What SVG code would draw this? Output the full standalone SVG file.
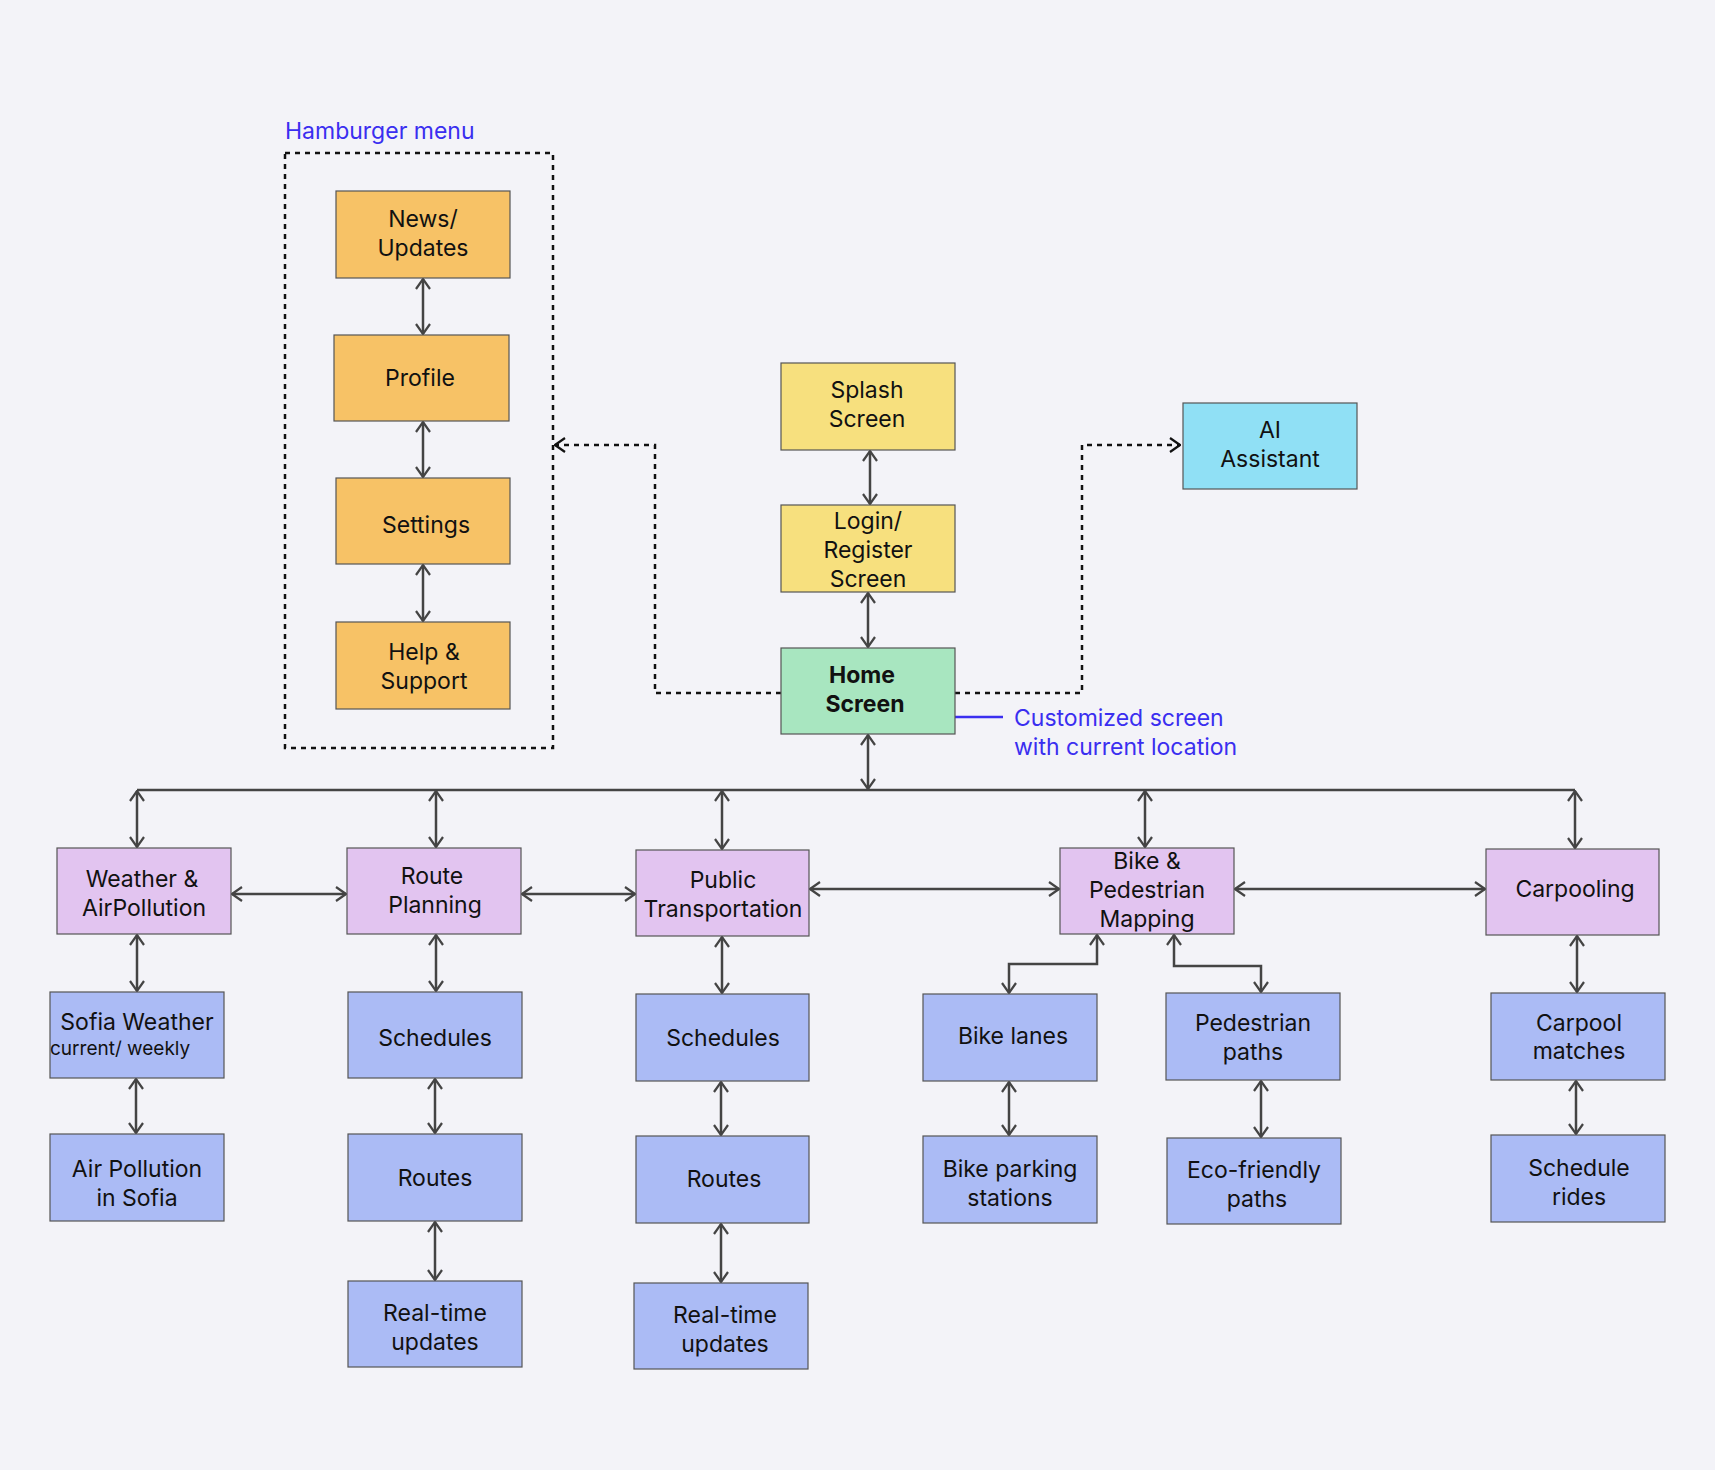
<svg xmlns="http://www.w3.org/2000/svg" width="1715" height="1470" viewBox="0 0 1715 1470">
<defs>
<marker id="a" viewBox="0 0 12 16" refX="11" refY="8" markerWidth="12" markerHeight="16" markerUnits="userSpaceOnUse" orient="auto-start-reverse"><path d="M1 1 L11 8 L1 15" fill="none" stroke="#444" stroke-width="2.2"/></marker>
<marker id="b" viewBox="0 0 12 16" refX="11" refY="8" markerWidth="12" markerHeight="16" markerUnits="userSpaceOnUse" orient="auto-start-reverse"><path d="M1 1 L11 8 L1 15" fill="none" stroke="#111" stroke-width="2.2"/></marker>
<style>
.n{stroke:#555;stroke-width:1.2}
.o{fill:#F7C266}.y{fill:#F7E07E}.g{fill:#A8E6C0}.c{fill:#90E0F5}.p{fill:#E2C4F0}.b{fill:#ABBBF5}
text{font-family:Inter,"Open Sans",sans-serif;font-size:23px;fill:#111;text-anchor:middle}
.l{stroke:#444;stroke-width:2.5;fill:none;marker-start:url(#a);marker-end:url(#a)}
.s{stroke:#444;stroke-width:2.5;fill:none}
.d{stroke:#111;stroke-width:2.5;fill:none;stroke-dasharray:5 5}
.bl{fill:#3A2EF0;text-anchor:start}
</style>
</defs>
<rect width="1715" height="1470" fill="#F3F3F8"/>
<text class="bl" x="285" y="139">Hamburger menu</text>
<rect x="285" y="153" width="268" height="595" class="d"/>
<g id="connectors">
<line class="l" x1="423" y1="279" x2="423" y2="334"/>
<line class="l" x1="423" y1="422" x2="423" y2="477"/>
<line class="l" x1="423" y1="565" x2="423" y2="621"/>
<line class="l" x1="870" y1="451" x2="870" y2="504"/>
<line class="l" x1="868" y1="593" x2="868" y2="647"/>
<line class="l" x1="868" y1="735" x2="868" y2="789"/>
<polyline class="d" points="781,693 655,693 655,445 555,445" marker-end="url(#b)"/>
<polyline class="d" points="955,693 1082,693 1082,445 1180,445" marker-end="url(#b)"/>
<line x1="955" y1="717" x2="1003" y2="717" stroke="#3A2EF0" stroke-width="2.5"/>
<line class="s" x1="137" y1="790" x2="1575" y2="790"/>
<line class="l" x1="137" y1="791" x2="137" y2="847"/>
<line class="l" x1="436" y1="791" x2="436" y2="847"/>
<line class="l" x1="722" y1="791" x2="722" y2="849"/>
<line class="l" x1="1145" y1="791" x2="1145" y2="847"/>
<line class="l" x1="1575" y1="791" x2="1575" y2="848"/>
<line class="l" x1="232" y1="894" x2="346" y2="894"/>
<line class="l" x1="522" y1="894" x2="635" y2="894"/>
<line class="l" x1="810" y1="889" x2="1059" y2="889"/>
<line class="l" x1="1235" y1="889" x2="1485" y2="889"/>
<line class="l" x1="137" y1="935" x2="137" y2="991"/>
<line class="l" x1="136" y1="1079" x2="136" y2="1133"/>
<line class="l" x1="436" y1="935" x2="436" y2="991"/>
<line class="l" x1="435" y1="1079" x2="435" y2="1133"/>
<line class="l" x1="435" y1="1222" x2="435" y2="1280"/>
<line class="l" x1="722" y1="937" x2="722" y2="993"/>
<line class="l" x1="721" y1="1082" x2="721" y2="1135"/>
<line class="l" x1="721" y1="1224" x2="721" y2="1282"/>
<polyline class="l" points="1097,935 1097,964 1009,964 1009,993"/>
<polyline class="l" points="1174,935 1174,966 1261,966 1261,992"/>
<line class="l" x1="1009" y1="1082" x2="1009" y2="1135"/>
<line class="l" x1="1261" y1="1081" x2="1261" y2="1137"/>
<line class="l" x1="1577" y1="936" x2="1577" y2="992"/>
<line class="l" x1="1576" y1="1081" x2="1576" y2="1134"/>
</g>
<text class="bl" x="1014" y="726">Customized screen</text>
<text class="bl" x="1014" y="755">with current location</text>
<g id="news"><rect class="n o" x="336" y="191" width="174" height="87"/><text x="423" y="227">News/</text><text x="423" y="256">Updates</text></g>
<g id="profile"><rect class="n o" x="334" y="335" width="175" height="86"/><text x="420" y="386">Profile</text></g>
<g id="settings"><rect class="n o" x="336" y="478" width="174" height="86"/><text x="426" y="533">Settings</text></g>
<g id="help"><rect class="n o" x="336" y="622" width="174" height="87"/><text x="424" y="660">Help &amp;</text><text x="424" y="689">Support</text></g>
<g id="splash"><rect class="n y" x="781" y="363" width="174" height="87"/><text x="867" y="398">Splash</text><text x="867" y="427">Screen</text></g>
<g id="login"><rect class="n y" x="781" y="505" width="174" height="87"/><text x="868" y="529">Login/</text><text x="868" y="558">Register</text><text x="868" y="587">Screen</text></g>
<g id="home"><rect class="n g" x="781" y="648" width="174" height="86"/><text x="862" y="683" font-weight="bold">Home</text><text x="865" y="712" font-weight="bold">Screen</text></g>
<g id="ai"><rect class="n c" x="1183" y="403" width="174" height="86"/><text x="1270" y="438">AI</text><text x="1270" y="467">Assistant</text></g>
<g id="weather"><rect class="n p" x="57" y="848" width="174" height="86"/><text x="142" y="887">Weather &amp;</text><text x="144" y="916">AirPollution</text></g>
<g id="route"><rect class="n p" x="347" y="848" width="174" height="86"/><text x="432" y="884">Route</text><text x="435" y="913">Planning</text></g>
<g id="public"><rect class="n p" x="636" y="850" width="173" height="86"/><text x="723" y="888">Public</text><text x="723" y="917">Transportation</text></g>
<g id="bikeped"><rect class="n p" x="1060" y="848" width="174" height="86"/><text x="1147" y="869">Bike &amp;</text><text x="1147" y="898">Pedestrian</text><text x="1147" y="927">Mapping</text></g>
<g id="carpooling"><rect class="n p" x="1486" y="849" width="173" height="86"/><text x="1575" y="897">Carpooling</text></g>
<g id="sofia"><rect class="n b" x="50" y="992" width="174" height="86"/><text x="137" y="1030">Sofia Weather</text><text x="50" y="1055" style="text-anchor:start;font-size:19px">current/ weekly</text></g>
<g id="sched1"><rect class="n b" x="348" y="992" width="174" height="86"/><text x="435" y="1046">Schedules</text></g>
<g id="sched2"><rect class="n b" x="636" y="994" width="173" height="87"/><text x="723" y="1046">Schedules</text></g>
<g id="bikelanes"><rect class="n b" x="923" y="994" width="174" height="87"/><text x="1013" y="1044">Bike lanes</text></g>
<g id="pedpaths"><rect class="n b" x="1166" y="993" width="174" height="87"/><text x="1253" y="1031">Pedestrian</text><text x="1253" y="1060">paths</text></g>
<g id="matches"><rect class="n b" x="1491" y="993" width="174" height="87"/><text x="1579" y="1031">Carpool</text><text x="1579" y="1059">matches</text></g>
<g id="air"><rect class="n b" x="50" y="1134" width="174" height="87"/><text x="137" y="1177">Air Pollution</text><text x="137" y="1206">in Sofia</text></g>
<g id="routes1"><rect class="n b" x="348" y="1134" width="174" height="87"/><text x="435" y="1186">Routes</text></g>
<g id="routes2"><rect class="n b" x="636" y="1136" width="173" height="87"/><text x="724" y="1187">Routes</text></g>
<g id="parking"><rect class="n b" x="923" y="1136" width="174" height="87"/><text x="1010" y="1177">Bike parking</text><text x="1010" y="1206">stations</text></g>
<g id="eco"><rect class="n b" x="1167" y="1138" width="174" height="86"/><text x="1254" y="1178">Eco-friendly</text><text x="1257" y="1207">paths</text></g>
<g id="rides"><rect class="n b" x="1491" y="1135" width="174" height="87"/><text x="1579" y="1176">Schedule</text><text x="1579" y="1205">rides</text></g>
<g id="rt1"><rect class="n b" x="348" y="1281" width="174" height="86"/><text x="435" y="1321">Real-time</text><text x="435" y="1350">updates</text></g>
<g id="rt2"><rect class="n b" x="634" y="1283" width="174" height="86"/><text x="725" y="1323">Real-time</text><text x="725" y="1352">updates</text></g>
</svg>
